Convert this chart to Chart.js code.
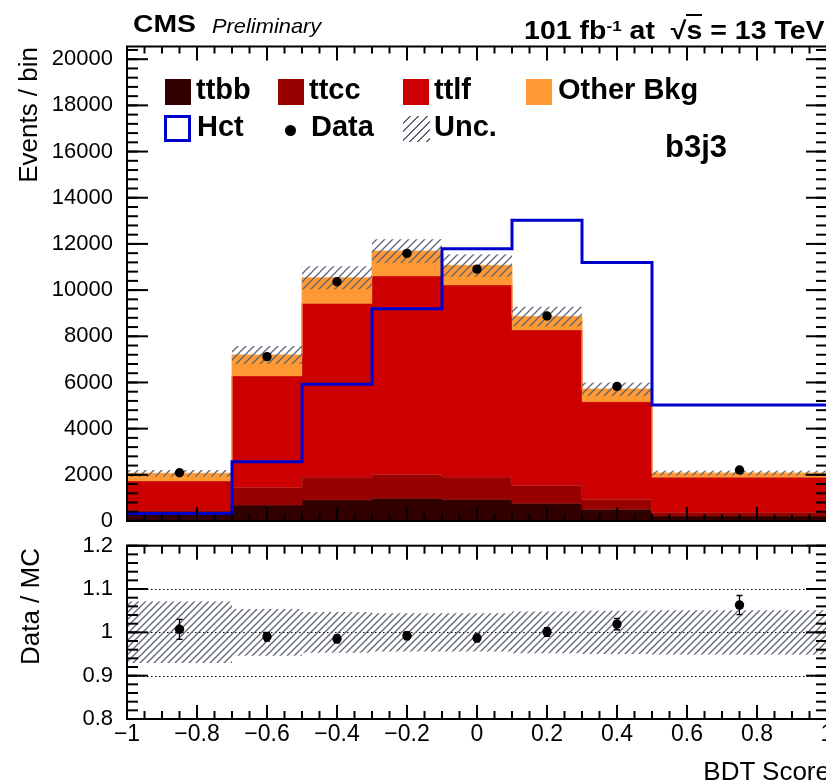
<!DOCTYPE html>
<html><head><meta charset="utf-8">
<script src="https://cdn.jsdelivr.net/npm/chart.js@4.4.1/dist/chart.umd.min.js"></script>
<style>
html,body{margin:0;padding:0;background:#fff;overflow:hidden;}
#wrap{position:relative;width:826px;height:781px;overflow:hidden;font-family:"Liberation Sans",Arial,Helvetica,sans-serif;color:#000;}
canvas{position:absolute;left:0;}
.t{position:absolute;white-space:nowrap;line-height:1;}
.b{font-weight:bold;}
.box{position:absolute;}
</style></head><body>
<div id="wrap">
<canvas id="main" width="840" height="530" style="top:0"></canvas>
<canvas id="ratio" width="840" height="251" style="top:530px"></canvas>

<div class="t b" style="left:133px;top:12px;font-size:24px;transform:scaleX(1.18);transform-origin:0 0;">CMS</div>
<div class="t" style="left:212px;top:14.5px;font-size:21px;font-style:italic;transform:scaleX(1.04);transform-origin:0 0;">Preliminary</div>
<div class="t b" style="right:1px;top:17.8px;font-size:25px;transform:scaleX(1.14);transform-origin:100% 0;">101 fb<span style="position:relative;top:-0.5em;font-size:0.6em;">-1</span> at &nbsp;√<span style="border-top:2px solid #000;">s</span> = 13 TeV</div>

<div class="box" style="left:165px;top:79px;width:26px;height:26px;background:#330000;"></div>
<div class="t b" style="left:196px;top:74.5px;font-size:29px;">ttbb</div>
<div class="box" style="left:278px;top:79px;width:26px;height:26px;background:#990000;"></div>
<div class="t b" style="left:309px;top:74.5px;font-size:29px;">ttcc</div>
<div class="box" style="left:403px;top:79px;width:26px;height:26px;background:#cc0000;"></div>
<div class="t b" style="left:434px;top:74.5px;font-size:29px;">ttlf</div>
<div class="box" style="left:526px;top:79px;width:26px;height:26px;background:#ff9933;"></div>
<div class="t b" style="left:558px;top:74.5px;font-size:29px;">Other Bkg</div>

<div class="box" style="left:164px;top:115px;width:21px;height:21px;border:3px solid #0000cc;"></div>
<div class="t b" style="left:197px;top:111.5px;font-size:29px;">Hct</div>
<div class="box" style="left:285px;top:124.5px;width:11px;height:11px;border-radius:50%;background:#000;"></div>
<div class="t b" style="left:311px;top:111.5px;font-size:29px;">Data</div>
<div class="box" style="left:403px;top:116px;width:27px;height:26px;background:repeating-linear-gradient(135deg,transparent 0px,transparent 4.5px,#5f6673 4.5px,#5f6673 5.9px);"></div>
<div class="t b" style="left:434px;top:111.5px;font-size:29px;">Unc.</div>

<div class="t b" style="left:665px;top:130.5px;font-size:31px;">b3j3</div>

<div class="t" style="left:15px;top:347px;width:300px;text-align:right;font-size:26px;transform:rotate(-90deg);transform-origin:0 0;">Events / bin</div>
<div class="t" style="left:17px;top:848px;width:300px;text-align:right;font-size:26px;transform:rotate(-90deg);transform-origin:0 0;">Data / MC</div>
<div class="t" style="left:530px;top:758px;width:300px;text-align:right;font-size:26px;">BDT Score</div>
</div>
<script>
// ---- data ----
const binEdges   = [-1, -0.7, -0.5, -0.3, -0.1, 0.1, 0.3, 0.5, 1.0];
const binCenters = [-0.85, -0.6, -0.4, -0.2, 0, 0.2, 0.4, 0.75];
const ttbb  = [300, 690, 920, 980, 940, 770, 510, 220];
const ttcc  = [180, 770, 985, 1040, 965, 780, 430, 145];
const ttlf  = [1250, 4820, 7520, 8590, 8315, 6725, 4225, 1530];
const other = [335, 910, 1110, 1080, 850, 575, 550, 185];
const hct   = [330, 2570, 5920, 9190, 11790, 13030, 11200, 5020];
const data  = [2090, 7120, 10360, 11590, 10910, 8880, 5830, 2210];
const uncRel   = [0.071, 0.054, 0.047, 0.044, 0.044, 0.048, 0.050, 0.051];
const ratio    = [1.007, 0.990, 0.985, 0.992, 0.987, 1.001, 1.019, 1.063];
const ratioErr = [0.023, 0.010, 0.009, 0.009, 0.009, 0.010, 0.013, 0.022];
const xTickValues = [-1, -0.8, -0.6, -0.4, -0.2, 0, 0.2, 0.4, 0.6, 0.8, 1];
const xTickLabels = ['\u22121', '\u22120.8', '\u22120.6', '\u22120.4', '\u22120.2', '0', '0.2', '0.4', '0.6', '0.8', '1'];
const yTickValues = [0, 2000, 4000, 6000, 8000, 10000, 12000, 14000, 16000, 18000, 20000];
const yTickLabels = ['0', '2000', '4000', '6000', '8000', '10000', '12000', '14000', '16000', '18000', '20000'];
const rTickValues = [0.8, 0.9, 1, 1.1, 1.2];
const rTickLabels = ['0.8', '0.9', '1', '1.1', '1.2'];
const refLines = [0.9, 1.0, 1.1];

// ---- derived ----
const add = (a, b) => a.map((v, i) => v + b[i]);
const cumBB = ttbb.slice();
const cumCC = add(cumBB, ttcc);
const cumLF = add(cumCC, ttlf);
const cumOT = add(cumLF, other);
const uncUp = cumOT.map((v, i) => v * (1 + uncRel[i]));
const uncDn = cumOT.map((v, i) => v * (1 - uncRel[i]));
const rUp = uncRel.map(r => 1 + r);
const rDn = uncRel.map(r => 1 - r);
const steps = vals => binEdges.map((x, i) => ({x: x, y: vals[Math.min(i, vals.length - 1)]}));
const pts = vals => binCenters.map((x, i) => ({x: x, y: vals[i]}));

function hatch(size, color) {
  const c = document.createElement('canvas');
  c.width = size; c.height = size;
  const g = c.getContext('2d');
  g.strokeStyle = color; g.lineWidth = 1.3;
  g.beginPath();
  g.moveTo(0, size); g.lineTo(size, 0);
  g.moveTo(-size/2, size/2); g.lineTo(size/2, -size/2);
  g.moveTo(size/2, size*1.5); g.lineTo(size*1.5, size/2);
  g.stroke();
  return g.createPattern(c, 'repeat');
}

const FONT = '"Liberation Sans", Arial, Helvetica, sans-serif';

function range(a, b, step) { const out = []; for (let v = a; v <= b + 1e-9; v += step) out.push(+v.toFixed(6)); return out; }

const frameTicks = {
  id: 'frameTicks',
  beforeDatasetsDraw(chart, args, o) {
    if (!o.refLines) return;
    const {ctx, chartArea: a} = chart; const ys = chart.scales.y;
    ctx.save(); ctx.strokeStyle = '#000'; ctx.lineWidth = 1; ctx.setLineDash([1.5, 2.5]);
    o.refLines.forEach(v => { const p = Math.round(ys.getPixelForValue(v)) + 0.5; ctx.beginPath(); ctx.moveTo(a.left, p); ctx.lineTo(a.right, p); ctx.stroke(); });
    ctx.restore();
  },
  afterDatasetsDraw(chart, args, o) {
    const {ctx} = chart; const xs = chart.scales.x, ys = chart.scales.y;
    if (o.err) {
      ctx.save(); ctx.strokeStyle = '#000'; ctx.lineWidth = 1.3;
      o.err.forEach((e, i) => {
        const x = xs.getPixelForValue(binCenters[i]);
        const y1 = ys.getPixelForValue(ratio[i] + e), y2 = ys.getPixelForValue(ratio[i] - e);
        ctx.beginPath(); ctx.moveTo(x, y1); ctx.lineTo(x, y2);
        ctx.moveTo(x - 3, y1); ctx.lineTo(x + 3, y1);
        ctx.moveTo(x - 3, y2); ctx.lineTo(x + 3, y2); ctx.stroke();
      });
      ctx.restore();
    }
  },
  afterDraw(chart, args, o) {
    const {ctx, chartArea: a} = chart; const xs = chart.scales.x, ys = chart.scales.y;
    ctx.save(); ctx.strokeStyle = '#000'; ctx.lineWidth = 2;
    const line = (x1, y1, x2, y2) => { ctx.beginPath(); ctx.moveTo(x1, y1); ctx.lineTo(x2, y2); ctx.stroke(); };
    const xt = (vals, len) => vals.forEach(v => { const p = xs.getPixelForValue(v); line(p, a.bottom, p, a.bottom - len); line(p, a.top, p, a.top + len); });
    const yt = (vals, len) => vals.forEach(v => { const p = ys.getPixelForValue(v); line(a.left, p, a.left + len, p); line(a.right, p, a.right - len, p); });
    xt(o.xMinor, o.xMinLen); xt(o.xMajor, o.xMajLen);
    yt(o.yMinor, o.yMinLen); yt(o.yMajor, o.yMajLen);
    ctx.strokeRect(a.left, a.top, a.right - a.left, a.bottom - a.top);
    ctx.restore();
  }
};

const noPad = s => { s.paddingTop = 0; s.paddingBottom = 0; s.paddingLeft = 0; s.paddingRight = 0; };

// ---- main panel ----
const hatchTop = hatch(8, '#5f6673');
new Chart(document.getElementById('main'), {
  type: 'line',
  data: { datasets: [
    {label: 'Data', data: pts(data), showLine: false, pointRadius: 4.7, pointBackgroundColor: '#000', pointBorderWidth: 0, order: 0},
    {label: 'Hct', data: steps(hct), stepped: true, borderColor: '#0000cc', borderWidth: 3, pointRadius: 0, fill: false, order: 1},
    {label: 'Unc.', data: steps(uncUp), stepped: true, borderWidth: 0, pointRadius: 0, fill: 3, backgroundColor: hatchTop, order: 2},
    {label: 'uncDown', data: steps(uncDn), stepped: true, borderWidth: 0, pointRadius: 0, fill: false, order: 3},
    {label: 'Other Bkg', data: steps(cumOT), stepped: true, borderColor: '#ffa447', borderWidth: 1, pointRadius: 0, fill: 5, backgroundColor: '#ff9933', order: 4},
    {label: 'ttlf', data: steps(cumLF), stepped: true, borderColor: '#d83a2a', borderWidth: 1, pointRadius: 0, fill: 6, backgroundColor: '#cc0000', order: 5},
    {label: 'ttcc', data: steps(cumCC), stepped: true, borderColor: '#bb3030', borderWidth: 1, pointRadius: 0, fill: 7, backgroundColor: '#990000', order: 6},
    {label: 'ttbb', data: steps(cumBB), stepped: true, borderColor: '#6e1a1a', borderWidth: 1, pointRadius: 0, fill: 'origin', backgroundColor: '#330000', order: 7}
  ]},
  options: {
    responsive: false, maintainAspectRatio: false, animation: false, events: [],
    layout: {padding: {left: 0, right: 13, top: 46.5, bottom: 9}},
    scales: {
      x: {type: 'linear', display: false, min: -1, max: 1, afterFit: noPad},
      y: {type: 'linear', min: 0, max: 20550,
          grid: {display: false, drawTicks: false}, border: {display: false},
          afterBuildTicks: s => { s.ticks = yTickValues.map(v => ({value: v})); },
          ticks: {padding: 14, color: '#000', font: {family: FONT, size: 22}, callback: (v) => yTickLabels[yTickValues.indexOf(v)]},
          afterFit: s => { s.width = 127; noPad(s); }}
    },
    plugins: {
      legend: {display: false}, tooltip: {enabled: false},
      frameTicks: {xMajor: xTickValues, xMinor: range(-1, 1, 0.05), yMajor: yTickValues, yMinor: range(0, 20400, 400),
                   xMajLen: 14, xMinLen: 7, yMajLen: 21, yMinLen: 11}
    }
  },
  plugins: [frameTicks]
});

// ---- ratio panel ----
const hatchR = hatch(7, '#5f6673');
new Chart(document.getElementById('ratio'), {
  type: 'line',
  data: { datasets: [
    {label: 'Data/MC', data: pts(ratio), showLine: false, pointRadius: 4.7, pointBackgroundColor: '#000', pointBorderWidth: 0, order: 0},
    {label: 'uncUp', data: steps(rUp), stepped: true, borderWidth: 0, pointRadius: 0, fill: 2, backgroundColor: hatchR, order: 1},
    {label: 'uncDown', data: steps(rDn), stepped: true, borderWidth: 0, pointRadius: 0, fill: false, order: 2}
  ]},
  options: {
    responsive: false, maintainAspectRatio: false, animation: false, events: [],
    layout: {padding: {left: 0, right: 13, top: 15.7, bottom: 22}},
    scales: {
      x: {type: 'linear', min: -1, max: 1,
          grid: {display: false, drawTicks: false}, border: {display: false},
          afterBuildTicks: s => { s.ticks = xTickValues.map(v => ({value: v})); },
          ticks: {padding: 2, maxRotation: 0, autoSkip: false, color: '#000', font: {family: FONT, size: 23}, callback: (v) => xTickLabels[xTickValues.indexOf(v)]},
          afterFit: s => { s.height = 40; noPad(s); }},
      y: {type: 'linear', min: 0.8, max: 1.2,
          grid: {display: false, drawTicks: false}, border: {display: false},
          afterBuildTicks: s => { s.ticks = rTickValues.map(v => ({value: v})); },
          ticks: {padding: 14, color: '#000', font: {family: FONT, size: 22}, callback: (v) => rTickLabels[rTickValues.indexOf(v)]},
          afterFit: s => { s.width = 127; noPad(s); }}
    },
    plugins: {
      legend: {display: false}, tooltip: {enabled: false},
      frameTicks: {xMajor: xTickValues, xMinor: range(-1, 1, 0.05), yMajor: rTickValues, yMinor: range(0.8, 1.2, 0.02),
                   xMajLen: 14, xMinLen: 8, yMajLen: 21, yMinLen: 11, refLines: refLines, err: ratioErr}
    }
  },
  plugins: [frameTicks]
});
</script>
</body></html>
